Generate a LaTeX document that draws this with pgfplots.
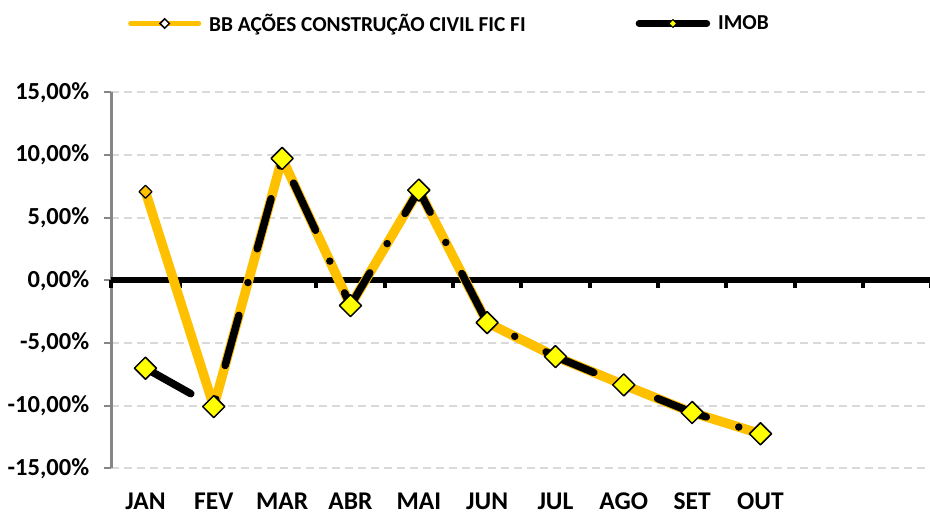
\documentclass[border=0pt]{standalone}
\usepackage{fontspec}
\setmainfont{Carlito}
\usepackage{pgfplots}
\pgfplotsset{compat=1.18}
\definecolor{bbgold}{HTML}{FFC000}
\definecolor{mkyellow}{HTML}{FFFF00}
\definecolor{gridgray}{HTML}{D9D9D9}
\definecolor{axgray}{HTML}{868686}
\begin{document}
\begin{tikzpicture}
\path[use as bounding box] (-111.3pt,-45.5pt) rectangle (818.7pt,468.5pt);
\begin{axis}[
  at={(0pt,0pt)}, anchor=south west,
  scale only axis, width=820pt, height=376pt,
  xmin=-0.5, xmax=11.5, ymin=-15, ymax=15,
  clip=false,
  axis y line*=left, axis x line*=bottom,
  x axis line style={draw=none},
  y axis line style={-, draw=axgray, line width=2.5pt},
  xtick={0,1,2,3,4,5,6,7,8,9},
  xticklabels={JAN,FEV,MAR,ABR,MAI,JUN,JUL,AGO,SET,OUT},
  x tick style={draw=none},
  xticklabel style={anchor=base, inner sep=0pt, yshift=-34pt, font=\fontsize{25.5}{29}\selectfont\bfseries},
  ytick={-15,-10,-5,0,5,10,15},
  yticklabels={{-15,00\%},{-10,00\%},{-5,00\%},{0,00\%},{5,00\%},{10,00\%},{15,00\%}},
  yticklabel style={anchor=east, inner sep=0pt, xshift=-15pt, font=\fontsize{24.5}{28}\selectfont\bfseries},
  y tick style={draw=axgray, line width=2pt},
  tick align=outside, major tick length=7pt,
  ymajorgrids,
  major grid style={draw=gridgray, line width=2pt, dash pattern=on 8pt off 5pt},
  legend image code/.code={\draw[mark repeat=2,mark phase=2,#1] plot coordinates {(0pt,0pt) (34pt,0pt) (68pt,0pt)};},
  legend style={at={(axis description cs:0.0204,1.1835)}, anchor=west, draw=none, fill=none,
    inner sep=0pt, nodes={inner sep=0pt}, font=\fontsize{21.3}{24}\selectfont\bfseries,
    /tikz/every odd column/.append style={column sep=8pt},
    /tikz/every even column/.append style={column sep=110pt}},
  legend columns=2,
]
% zero line with category ticks
\draw[black, line width=6pt] (axis cs:-0.5,0) -- (axis cs:11.5,0);
\pgfplotsinvokeforeach{-0.5,0.5,1.5,2.5,3.5,4.5,5.5,6.5,7.5,8.5,9.5,10.5,11.5}{
  \draw[black, line width=4pt] (axis cs:#1,0) -- ++(0pt,-8pt);
}
\addlegendimage{draw=bbgold, line width=5pt, line cap=round, mark=square*, mark size=3.3pt,
  mark options={rotate=45, fill=white, draw=black, line width=1.5pt, solid}}
\addlegendentry{BB AÇÕES CONSTRUÇÃO CIVIL FIC FI}
\addlegendimage{draw=black, line width=6.5pt, line cap=round, mark=square*, mark size=2.8pt,
  mark options={rotate=45, fill=mkyellow, draw=black, line width=1pt, solid}}
\addlegendentry{IMOB}
% BB series
\addplot[forget plot, draw=bbgold, line width=9.5pt, line join=round, line cap=round,
  mark=square*, mark size=4.6pt, mark options={rotate=45, fill=bbgold, draw=black, line width=1.2pt, solid}]
  coordinates {(0,7.08) (1,-10.06) (2,9.74) (3,-2.0) (4,7.21) (5,-3.36) (6,-6.07) (7,-8.33) (8,-10.53) (9,-12.23)};
% IMOB series
\addplot[forget plot, draw=black, line width=7.5pt, line join=round, line cap=round,
  dash pattern=on 52pt off 34pt on 0pt off 35pt,
  mark=square*, mark size=7.8pt, mark options={rotate=45, fill=mkyellow, draw=black, line width=1.5pt, solid}]
  coordinates {(0,-7.0) (1,-10.06) (2,9.74) (3,-2.0) (4,7.21) (5,-3.36) (6,-6.07) (7,-8.33) (8,-10.53) (9,-12.23)};
\end{axis}
\end{tikzpicture}
\end{document}
